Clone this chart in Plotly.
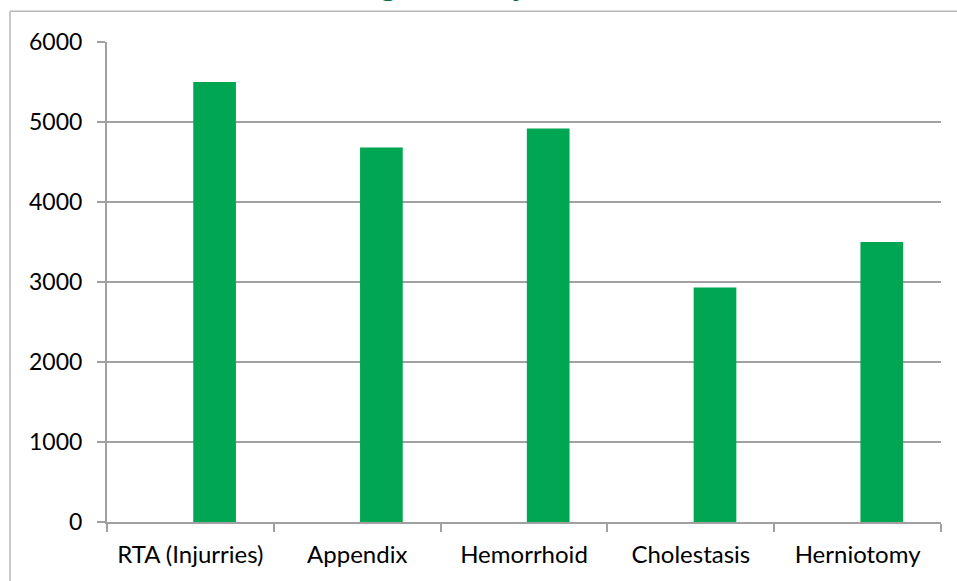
import plotly.graph_objects as go

categories = ["RTA (Injurries)", "Appendix", "Hemorrhoid", "Cholestasis", "Herniotomy"]
avg_costs = [5500, 4680, 4920, 2930, 3500]
y_ticks = [0, 1000, 2000, 3000, 4000, 5000, 6000]
title_text = "Chart 1: Average costs by common illnesses"

W, H = 957, 581
L, R, T, B = 107, 16, 41.7, 59.3
pw, ph = W - L - R, H - T - B

def px_x(p):
    return (p - L) / pw

def px_y(p):
    return (H - B - p) / ph

fig = go.Figure()
fig.add_trace(go.Bar(
    x=categories, y=avg_costs,
    marker=dict(color="#00A651", line=dict(width=0)),
    width=0.256, offset=0.017,
    hoverinfo="x+y",
))

grid_col = "#A0A0A0"
fig.update_layout(
    width=W, height=H,
    margin=dict(l=L, r=R, t=T, b=B, pad=0),
    paper_bgcolor="white", plot_bgcolor="white",
    showlegend=False,
    font=dict(family="Lato, Carlito, sans-serif", size=23, color="#000000"),
    xaxis=dict(
        type="category",
        showgrid=False,
        showline=True, linecolor=grid_col, linewidth=2,
        ticks="outside", tickson="boundaries", ticklen=8, tickwidth=2, tickcolor=grid_col,
        ticklabelstandoff=10,
        tickfont=dict(size=24),
        range=[-0.5, 4.5],
        fixedrange=True,
    ),
    yaxis=dict(
        range=[0, 6000],
        tickvals=y_ticks,
        showgrid=True, gridcolor=grid_col, gridwidth=2,
        showline=True, linecolor=grid_col, linewidth=2,
        ticks="outside", ticklen=8, tickwidth=2, tickcolor=grid_col,
        ticklabelstandoff=10,
        zeroline=False,
        tickfont=dict(size=23),
        fixedrange=True,
    ),
    shapes=[
        dict(type="line", xref="paper", yref="paper",
             x0=px_x(10), x1=px_x(W + 20), y0=px_y(11), y1=px_y(11),
             line=dict(color="#B8B8B8", width=1.5)),
        dict(type="line", xref="paper", yref="paper",
             x0=px_x(10), x1=px_x(10), y0=px_y(11), y1=px_y(H + 20),
             line=dict(color="#B8B8B8", width=1.5)),
    ],
    annotations=[
        dict(text="<b><i>" + title_text + "</i></b>", xref="paper", yref="paper",
             x=px_x(482), y=px_y(3), xanchor="center", yanchor="bottom",
             showarrow=False,
             font=dict(family="Liberation Serif, Times New Roman, serif", size=34, color="#0B6B3A")),
    ],
)

fig.write_html("out.html", config={"displayModeBar": False},
               post_script="document.body.style.margin='0';")
